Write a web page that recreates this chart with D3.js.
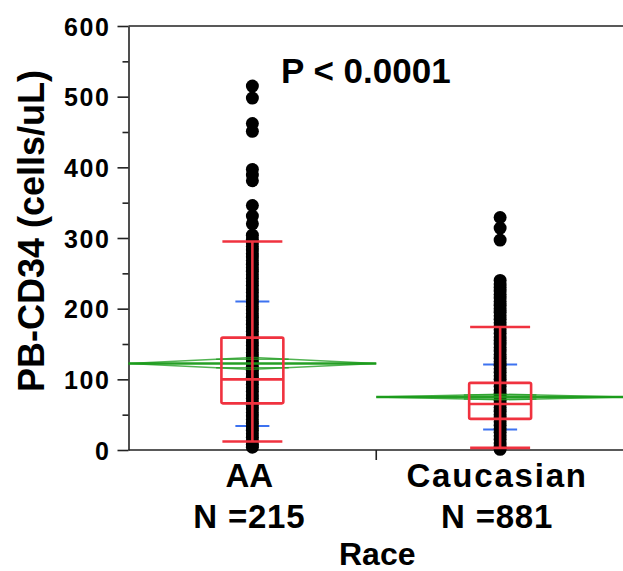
<!DOCTYPE html>
<html>
<head>
<meta charset="utf-8">
<script src="https://cdn.jsdelivr.net/npm/d3@7"></script>
<style>
  body { margin: 0; background: #fff; }
  svg { display: block; font-family: "Liberation Sans", Arial, sans-serif; font-weight: bold; }
</style>
</head>
<body>
<svg class="chart"></svg>
<script>
// Groups and their summary stats (cells/uL)
const categories = ["AA", "Caucasian"];
const counts = [215, 881];
const whiskerLo = [12, 3];
const q1 = [66, 44];
const median = [100, 65];
const q3 = [159, 95];
const whiskerHi = [295, 174];
const means = [122.5, 75];
const ciLo = [114, 71];
const ciHi = [131, 79];
const sdLo = [34, 29];
const sdHi = [210, 121];

// Individual points (dense parts thinned to what is visible)
const aaValues = [515, 498, 462, 451, 397, 389, 381, 346, 331, 320, 304,
  298, 293, 288, 283, 278, 273, 268, 263, 258, 253, 248, 243, 238, 233, 228,
  223, 218, 213, 208, 203, 198, 193, 188, 183, 178, 173, 168, 163, 158, 153,
  148, 143, 138, 133, 128, 123, 118, 113, 108, 103, 98, 93, 88, 83, 78, 73,
  68, 63, 58, 53, 48, 43, 38, 33, 28, 23, 18, 13, 8, 4];
const caucValues = [329, 314, 297,
  240, 235, 230, 225, 220, 215, 210, 205, 200, 195, 190, 185, 180, 175, 170,
  165, 160, 155, 150, 145, 140, 135, 130, 125, 120, 115, 110, 105, 100, 95,
  90, 85, 80, 75, 70, 65, 60, 55, 50, 45, 40, 35, 30, 25, 20, 15, 10, 5, 1];
const pointSets = [aaValues, caucValues];

const yTicks = [0, 100, 200, 300, 400, 500, 600];
const yMinorTicks = [50, 150, 250, 350, 450, 550];

const width = 623;
const height = 571;
const marginTop = 26;
const marginBottom = 121;
const marginLeft = 128.5;
const plotRight = 624;

const svg = d3.select("svg.chart")
  .attr("width", width)
  .attr("height", height)
  .attr("viewBox", `0 0 ${width} ${height}`);

const x = d3.scaleBand()
  .domain(categories)
  .range([marginLeft, plotRight])
  .padding(0);

const y = d3.scaleLinear()
  .domain([0, 600])
  .range([height - marginBottom, marginTop]);

const cx = c => x(c) + x.bandwidth() / 2;
const axisColor = "#222";

// frame lines: top and bottom
svg.append("line")
  .attr("x1", marginLeft).attr("x2", width)
  .attr("y1", y(600)).attr("y2", y(600))
  .attr("stroke", axisColor).attr("stroke-width", 1.6);
svg.append("line")
  .attr("x1", marginLeft).attr("x2", width)
  .attr("y1", y(0)).attr("y2", y(0))
  .attr("stroke", axisColor).attr("stroke-width", 1.6);

// category boundary ticks under the x axis
svg.append("g")
  .selectAll("line")
  .data(categories.slice(1))
  .join("line")
  .attr("x1", d => x(d)).attr("x2", d => x(d))
  .attr("y1", y(0)).attr("y2", y(0) + 10)
  .attr("stroke", axisColor).attr("stroke-width", 1.6);

// y axis
const yAxis = svg.append("g")
  .attr("transform", `translate(${marginLeft},0)`)
  .call(d3.axisLeft(y).tickValues(yTicks).tickSize(11).tickPadding(7).tickSizeOuter(0));
yAxis.select(".domain").attr("stroke", axisColor).attr("stroke-width", 1.6);
yAxis.selectAll(".tick line").attr("stroke", axisColor).attr("stroke-width", 1.6);
yAxis.selectAll(".tick text")
  .attr("fill", "#000")
  .style("font-family", "'Liberation Sans', Arial, sans-serif")
  .style("font-weight", "bold")
  .style("font-size", "25px")
  .style("letter-spacing", "1.6px")
  .attr("dy", "0.36em");

svg.append("g")
  .attr("transform", `translate(${marginLeft},0)`)
  .call(d3.axisLeft(y).tickValues(yMinorTicks).tickSize(6).tickFormat(""))
  .call(g => g.select(".domain").remove())
  .call(g => g.selectAll(".tick line").attr("stroke", axisColor).attr("stroke-width", 1.6));

// SD ticks (blue), under the points
const groups = categories.map((c, i) => ({ c, i }));
svg.append("g")
  .attr("stroke", "#3d72f0")
  .attr("stroke-width", 2)
  .selectAll("line")
  .data(groups.flatMap(g => [{ c: g.c, v: sdLo[g.i] }, { c: g.c, v: sdHi[g.i] }]))
  .join("line")
  .attr("x1", d => cx(d.c) - 17).attr("x2", d => cx(d.c) + 17)
  .attr("y1", d => y(d.v)).attr("y2", d => y(d.v));

// points
svg.append("g")
  .attr("fill", "#000")
  .selectAll("g")
  .data(groups)
  .join("g")
  .selectAll("circle")
  .data(g => pointSets[g.i].map(v => ({ c: g.c, v })))
  .join("circle")
  .attr("cx", d => cx(d.c))
  .attr("cy", d => y(d.v))
  .attr("r", 6.5);

// means diamonds (green)
const green = svg.append("g")
  .attr("fill", "none")
  .attr("stroke", "#189a18")
  .attr("stroke-width", 1.5)
  .attr("stroke-opacity", 0.75);

green.selectAll("path.diamond")
  .data(groups)
  .join("path")
  .attr("class", "diamond")
  .attr("d", g => {
    const x0 = x(g.c), x1 = x(g.c) + x.bandwidth(), xm = cx(g.c);
    return d3.line()([
      [x0, y(means[g.i])], [xm, y(ciHi[g.i])], [x1, y(means[g.i])],
      [xm, y(ciLo[g.i])], [x0, y(means[g.i])]
    ]);
  });

green.selectAll("line.mean")
  .data(groups)
  .join("line")
  .attr("class", "mean")
  .attr("stroke-width", 2.4)
  .attr("stroke-opacity", 0.95)
  .attr("x1", g => x(g.c)).attr("x2", g => x(g.c) + x.bandwidth())
  .attr("y1", g => y(means[g.i])).attr("y2", g => y(means[g.i]));

// overlap marks
const k = 1 - Math.SQRT1_2;
green.selectAll("line.overlap")
  .data(groups.flatMap(g => {
    const hw = (ciHi[g.i] - ciLo[g.i]) / 2;
    return [{ g, v: means[g.i] + hw * Math.SQRT1_2 }, { g, v: means[g.i] - hw * Math.SQRT1_2 }];
  }))
  .join("line")
  .attr("class", "overlap")
  .attr("x1", d => cx(d.g.c) - k * x.bandwidth() / 2)
  .attr("x2", d => cx(d.g.c) + k * x.bandwidth() / 2)
  .attr("y1", d => y(d.v)).attr("y2", d => y(d.v));

// box plots (red)
const boxW = x.bandwidth() * 0.25;
const capW = x.bandwidth() * 0.242;
const red = svg.append("g")
  .attr("fill", "none")
  .attr("stroke", "#f0323f")
  .attr("stroke-width", 2.6);

red.selectAll("line.whisker")
  .data(groups)
  .join("line")
  .attr("class", "whisker")
  .attr("x1", g => cx(g.c)).attr("x2", g => cx(g.c))
  .attr("y1", g => y(whiskerLo[g.i])).attr("y2", g => y(whiskerHi[g.i]));

red.selectAll("line.cap")
  .data(groups.flatMap(g => [{ g, v: whiskerLo[g.i] }, { g, v: whiskerHi[g.i] }]))
  .join("line")
  .attr("class", "cap")
  .attr("x1", d => cx(d.g.c) - capW / 2).attr("x2", d => cx(d.g.c) + capW / 2)
  .attr("y1", d => y(d.v)).attr("y2", d => y(d.v));

red.selectAll("rect")
  .data(groups)
  .join("rect")
  .attr("x", g => cx(g.c) - boxW / 2)
  .attr("width", boxW)
  .attr("y", g => y(q3[g.i]))
  .attr("height", g => y(q1[g.i]) - y(q3[g.i]))
  .attr("rx", 1.5)
  .attr("fill", "none");

red.selectAll("line.median")
  .data(groups)
  .join("line")
  .attr("class", "median")
  .attr("x1", g => cx(g.c) - boxW / 2).attr("x2", g => cx(g.c) + boxW / 2)
  .attr("y1", g => y(median[g.i])).attr("y2", g => y(median[g.i]));

// category labels
const catLabels = svg.append("g")
  .attr("text-anchor", "middle")
  .style("font-size", "33px");
catLabels.selectAll("text.cat")
  .data(groups)
  .join("text")
  .attr("class", "cat")
  .attr("x", g => cx(g.c) - 3)
  .attr("y", 487)
  .style("letter-spacing", g => g.i === 1 ? "1.8px" : "0px")
  .text(g => g.c);
catLabels.selectAll("text.n")
  .data(groups)
  .join("text")
  .attr("class", "n")
  .attr("x", g => cx(g.c) - 3)
  .attr("y", 528)
  .style("letter-spacing", "0.8px")
  .text(g => `N =${counts[g.i]}`);

// axis titles
svg.append("text")
  .attr("text-anchor", "middle")
  .attr("x", x(categories[1]) + 1)
  .attr("y", 565)
  .style("font-size", "32px")
  .text("Race");

svg.append("text")
  .attr("text-anchor", "middle")
  .attr("transform", `translate(44,${(y(600) + y(0)) / 2 - 7}) rotate(-90)`)
  .style("font-size", "36px")
  .text("PB-CD34 (cells/uL)");

// significance note
svg.append("text")
  .attr("x", 281)
  .attr("y", 83)
  .style("font-size", "35px")
  .text("P < 0.0001");
</script>
</body>
</html>
